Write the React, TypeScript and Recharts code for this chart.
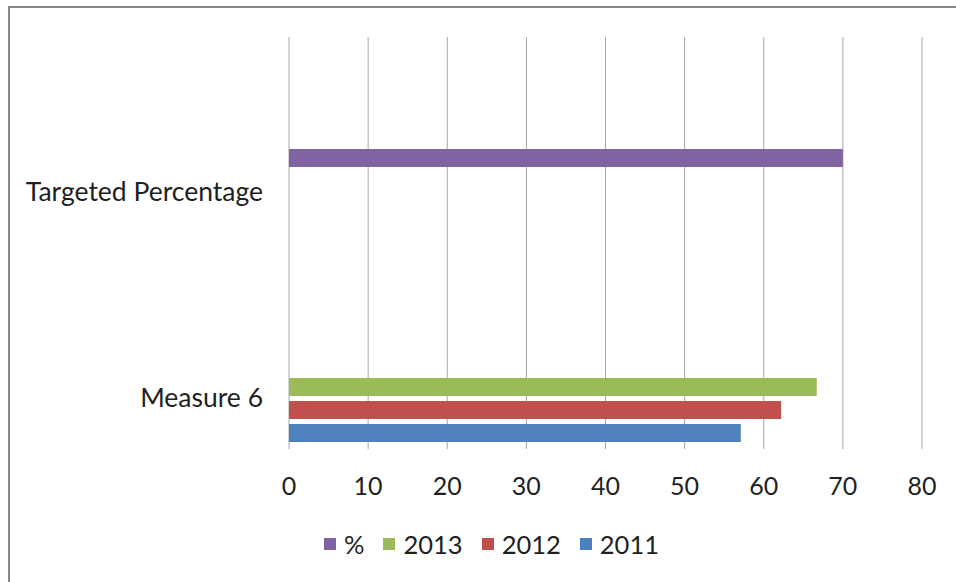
import { BarChart, Bar, XAxis, YAxis, CartesianGrid } from "recharts";

const categories = ["Targeted Percentage", "Measure 6"];
const pctValues = [70, null];
const values2013 = [null, 66.7];
const values2012 = [null, 62.2];
const values2011 = [null, 57.1];
const xTicks = [0, 10, 20, 30, 40, 50, 60, 70, 80];

const series = [
  { key: "pct", name: "%", color: "#8064A2" },
  { key: "y2013", name: "2013", color: "#9BBB59" },
  { key: "y2012", name: "2012", color: "#C0504D" },
  { key: "y2011", name: "2011", color: "#4F81BD" },
];

const data = categories.map((name, i) => ({
  name,
  pct: pctValues[i],
  y2013: values2013[i],
  y2012: values2012[i],
  y2011: values2011[i],
}));

const FONT = "Lato, 'DejaVu Sans', sans-serif";
const TEXT = "#1f1f1f";

export default function App() {
  return (
    <div
      style={{
        position: "relative",
        width: 956,
        height: 582,
        overflow: "hidden",
        background: "#fff",
        fontFamily: FONT,
      }}
    >
      <style>{"body{margin:0}"}</style>
      <div
        style={{
          position: "absolute",
          left: 8,
          top: 6,
          width: 980,
          height: 600,
          borderTop: "2px solid #868686",
          borderLeft: "2px solid #868686",
        }}
      />
      <div style={{ position: "absolute", left: 0, top: 0 }}>
        <BarChart
          width={956}
          height={582}
          data={data}
          layout="vertical"
          margin={{ top: 37, right: 34, bottom: 93, left: 0 }}
          barSize={18}
          barGap={5}
        >
          <CartesianGrid horizontal={false} stroke="#a6a6a6" />
          <XAxis
            type="number"
            domain={[0, 80]}
            ticks={xTicks}
            axisLine={false}
            tickLine={false}
            tickSize={0}
            tickMargin={28}
            height={40}
            tick={{ fill: TEXT, fontSize: 25, fontFamily: FONT }}
          />
          <YAxis
            type="category"
            dataKey="name"
            width={289}
            axisLine={false}
            tickLine={false}
            tickSize={0}
            tickMargin={26}
            padding={{ top: 52, bottom: -52 }}
            tick={{ fill: TEXT, fontSize: 26.5, fontFamily: FONT }}
          />
          {series.map((s) => (
            <Bar
              key={s.key}
              dataKey={s.key}
              name={s.name}
              fill={s.color}
              isAnimationActive={false}
            />
          ))}
        </BarChart>
      </div>
      <div
        style={{
          position: "absolute",
          left: 324,
          top: 529,
          display: "flex",
          alignItems: "center",
          fontSize: 25.5,
          color: TEXT,
          lineHeight: "30px",
        }}
      >
        {series.map((s) => (
          <div
            key={s.key}
            style={{ display: "flex", alignItems: "center", marginRight: 19 }}
          >
            <span
              style={{
                display: "inline-block",
                width: 12,
                height: 12,
                background: s.color,
                marginRight: 8,
              }}
            />
            <span>{s.name}</span>
          </div>
        ))}
      </div>
    </div>
  );
}
